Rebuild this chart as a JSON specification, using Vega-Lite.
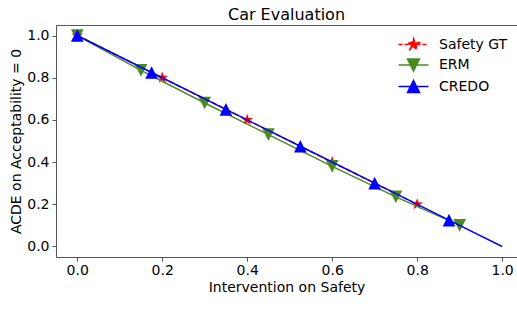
{
  "$schema": "https://vega.github.io/schema/vega-lite/v6.json",
  "width": 461,
  "height": 232,
  "autosize": {"type": "none"},
  "padding": {"left": 56, "top": 25, "right": 0, "bottom": 67},
  "title": {"text": "Car Evaluation", "font": "DejaVu Sans", "fontSize": 16, "fontWeight": "normal", "color": "black", "anchor": "middle", "offset": 2},
  "data": {"values": [
    {"series": "Safety GT", "x": 0, "y": 1.0},
    {"series": "Safety GT", "x": 0.2, "y": 0.8},
    {"series": "Safety GT", "x": 0.4, "y": 0.6},
    {"series": "Safety GT", "x": 0.6, "y": 0.4},
    {"series": "Safety GT", "x": 0.8, "y": 0.2},
    {"series": "ERM", "x": 0, "y": 1.0},
    {"series": "ERM", "x": 0.15, "y": 0.835},
    {"series": "ERM", "x": 0.3, "y": 0.68},
    {"series": "ERM", "x": 0.45, "y": 0.53},
    {"series": "ERM", "x": 0.6, "y": 0.38},
    {"series": "ERM", "x": 0.75, "y": 0.235},
    {"series": "ERM", "x": 0.9, "y": 0.1},
    {"series": "CREDO", "x": 0, "y": 1.0},
    {"series": "CREDO", "x": 0.175, "y": 0.825},
    {"series": "CREDO", "x": 0.35, "y": 0.65},
    {"series": "CREDO", "x": 0.525, "y": 0.475},
    {"series": "CREDO", "x": 0.7, "y": 0.3},
    {"series": "CREDO", "x": 0.875, "y": 0.125},
    {"series": "CREDO", "x": 1.0, "y": 0.0}
  ]},
  "config": {
    "view": {"stroke": null},
    "axis": {"domainColor": "#555", "tickColor": "#555", "labelColor": "black", "labelFont": "DejaVu Sans", "labelFontSize": 14, "titleFont": "DejaVu Sans", "titleFontSize": 14, "titleFontWeight": "normal", "titleColor": "black", "grid": false, "tickSize": 4, "domainWidth": 1}
  },
  "resolve": {"axis": {"x": "independent"}},
  "layer": [
    {
      "transform": [{"filter": "datum.series === 'Safety GT'"}],
      "mark": {"type": "line", "strokeDash": [5.5, 2.4], "strokeWidth": 1.5},
      "encoding": {
        "x": {"field": "x", "type": "quantitative", "scale": {"domain": [-0.05, 1.035], "nice": false, "zero": false}, "axis": {"orient": "top", "labels": false, "ticks": false, "title": null, "domain": true, "minExtent": 0, "maxExtent": 0, "offset": 0}},
        "y": {"field": "y", "type": "quantitative", "scale": {"domain": [-0.05, 1.05], "nice": false, "zero": false}, "axis": {"values": [0, 0.2, 0.4, 0.6, 0.8, 1.0], "format": ".1f", "title": "ACDE on Acceptability = 0", "labelPadding": 3, "titlePadding": 3}},
        "color": {"field": "series", "type": "nominal", "scale": {"domain": ["Safety GT", "ERM", "CREDO"], "range": ["#ff0000", "#4a8a22", "#0000ff"]},
          "legend": {"orient": "none", "legendX": 349, "legendY": 11, "title": null, "padding": 0, "labelFont": "DejaVu Sans", "labelFontSize": 14, "labelColor": "black", "symbolSize": 225, "labelOffset": 17, "rowPadding": 2.5,
            "encode": {"symbols": {"update": {
              "shape": {"signal": "datum.value === 'Safety GT' ? 'M-2,0H2M0,-0.8L0.188,-0.259L0.761,-0.247L0.304,0.099L0.470,0.647L0,0.32L-0.470,0.647L-0.304,0.099L-0.761,-0.247L-0.188,-0.259Z' : datum.value === 'ERM' ? 'M-2,0H2M0,0.8L0.8,-0.8L-0.8,-0.8Z' : 'M-2,0H2M0,-0.8L0.8,0.8L-0.8,0.8Z'"},
              "fill": {"signal": "datum.value === 'Safety GT' ? '#ff0000' : datum.value === 'ERM' ? '#4a8a22' : '#0000ff'"},
              "stroke": {"signal": "datum.value === 'Safety GT' ? '#ff0000' : datum.value === 'ERM' ? '#4a8a22' : '#0000ff'"},
              "strokeDash": {"signal": "datum.value === 'Safety GT' ? [4, 2] : [1, 0]"},
              "strokeWidth": {"value": 1.5},
              "opacity": {"value": 1},
              "size": {"value": 225}
            }}}
          }
        }
      }
    },
    {
      "transform": [{"filter": "datum.series === 'Safety GT'"}],
      "mark": {"type": "point", "shape": "M0,-1L0.235,-0.324L0.951,-0.309L0.380,0.124L0.588,0.809L0,0.4L-0.588,0.809L-0.380,0.124L-0.951,-0.309L-0.235,-0.324Z", "filled": true, "size": 150, "opacity": 1},
      "encoding": {
        "x": {"field": "x", "type": "quantitative", "axis": {"orient": "bottom", "values": [0, 0.2, 0.4, 0.6, 0.8, 1.0], "format": ".1f", "title": "Intervention on Safety", "labelPadding": 2, "titlePadding": 3, "labelFlush": false}},
        "y": {"field": "y", "type": "quantitative"},
        "color": {"field": "series", "type": "nominal"}
      }
    },
    {
      "transform": [{"filter": "datum.series === 'ERM'"}],
      "mark": {"type": "line", "strokeWidth": 1.5},
      "encoding": {
        "x": {"field": "x", "type": "quantitative", "axis": null},
        "y": {"field": "y", "type": "quantitative"},
        "color": {"field": "series", "type": "nominal"}
      }
    },
    {
      "transform": [{"filter": "datum.series === 'ERM'"}],
      "mark": {"type": "point", "shape": "M0,1L1,-1L-1,-1Z", "filled": true, "size": 160, "opacity": 1},
      "encoding": {
        "x": {"field": "x", "type": "quantitative", "axis": null},
        "y": {"field": "y", "type": "quantitative"},
        "color": {"field": "series", "type": "nominal"}
      }
    },
    {
      "transform": [{"filter": "datum.series === 'CREDO'"}],
      "mark": {"type": "line", "strokeWidth": 1.5},
      "encoding": {
        "x": {"field": "x", "type": "quantitative", "axis": null},
        "y": {"field": "y", "type": "quantitative"},
        "color": {"field": "series", "type": "nominal"}
      }
    },
    {
      "transform": [{"filter": "datum.series === 'CREDO' && datum.x < 1"}],
      "mark": {"type": "point", "shape": "M0,-1L1,1L-1,1Z", "filled": true, "size": 160, "opacity": 1},
      "encoding": {
        "x": {"field": "x", "type": "quantitative", "axis": null},
        "y": {"field": "y", "type": "quantitative"},
        "color": {"field": "series", "type": "nominal"}
      }
    }
  ]
}
